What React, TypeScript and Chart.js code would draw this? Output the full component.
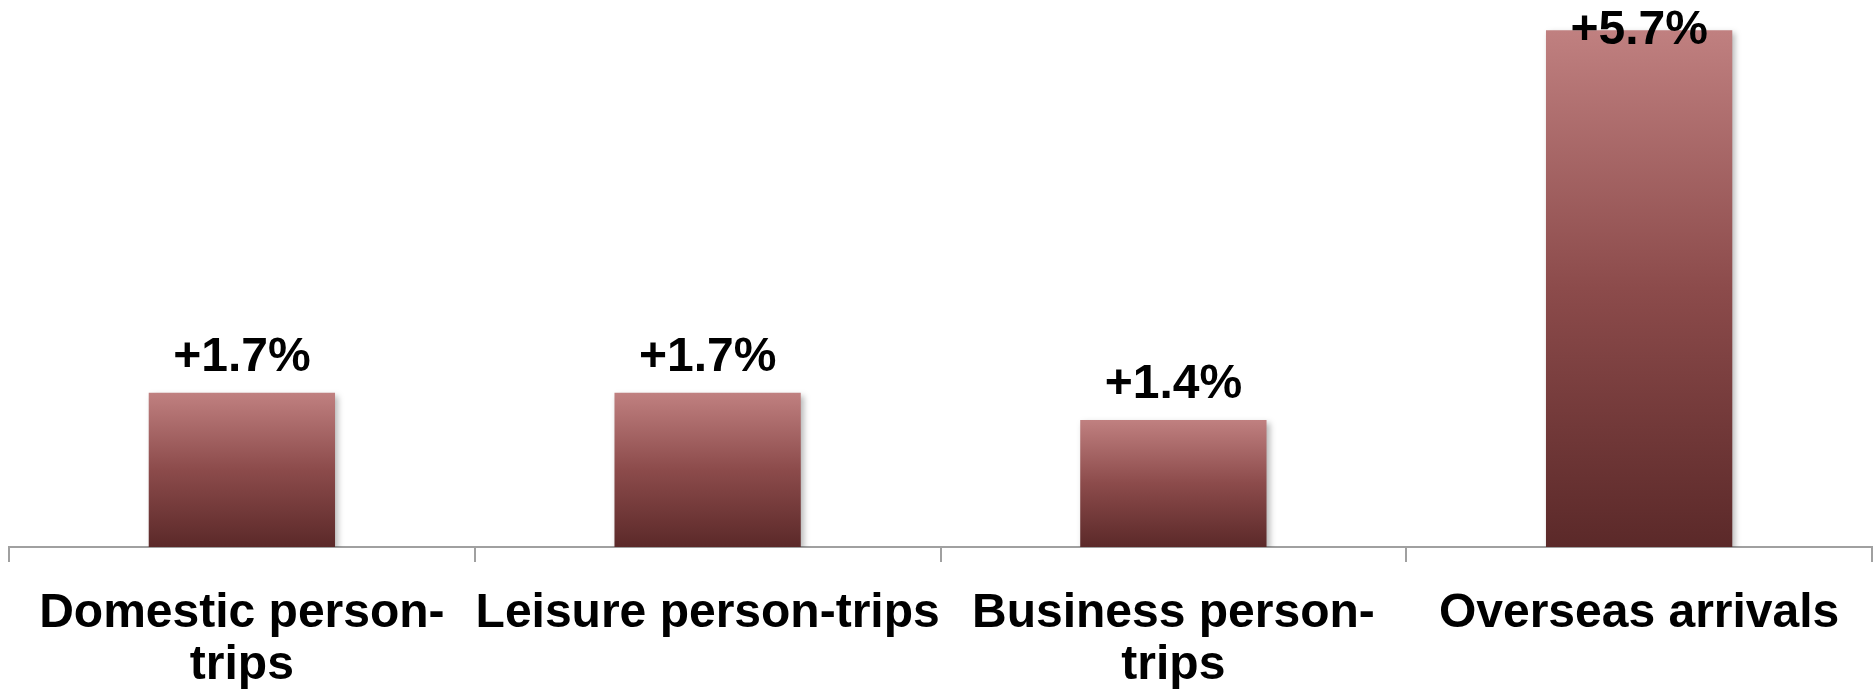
import React, { useEffect, useRef } from "react";
import { Chart, registerables } from "chart.js";

Chart.register(...registerables);

const categories: string[][] = [
  ["Domestic person-", "trips"],
  ["Leisure person-trips"],
  ["Business person-", "trips"],
  ["Overseas arrivals"],
];
const growthValues: number[] = [1.7, 1.7, 1.4, 5.7];
const yMin = 0;
const yMax = 6;

const FONT = "'Liberation Sans', Arial, Helvetica, sans-serif";

const barShadowPlugin = {
  id: "barShadow",
  beforeDatasetsDraw(chart: any) {
    const ctx = chart.ctx;
    ctx.save();
    ctx.shadowColor = "rgba(0,0,0,0.28)";
    ctx.shadowBlur = 6;
    ctx.shadowOffsetX = 3;
    ctx.shadowOffsetY = 3;
  },
  afterDatasetsDraw(chart: any) {
    chart.ctx.restore();
  },
};

const valueLabelPlugin = {
  id: "valueLabels",
  afterDatasetsDraw(chart: any) {
    const ctx = chart.ctx;
    const meta = chart.getDatasetMeta(0);
    const area = chart.chartArea;
    ctx.save();
    ctx.shadowColor = "transparent";
    ctx.font = `bold 48px ${FONT}`;
    ctx.fillStyle = "#000000";
    ctx.textAlign = "center";
    ctx.textBaseline = "alphabetic";
    meta.data.forEach((el: any, i: number) => {
      const v = growthValues[i];
      const text = (v >= 0 ? "+" : "") + v.toFixed(1) + "%";
      const y = Math.max(el.y - 22, area.top + 41);
      ctx.fillText(text, el.x, y);
    });
    ctx.restore();
  },
};

export default function App() {
  const canvasRef = useRef<HTMLCanvasElement | null>(null);

  useEffect(() => {
    if (!canvasRef.current) return;
    const chart = new Chart(canvasRef.current, {
      type: "bar",
      data: {
        labels: categories,
        datasets: [
          {
            data: growthValues,
            backgroundColor: (context: any) => {
              const c = context.chart;
              const yScale = c.scales?.y;
              if (!yScale || !c.chartArea) return "#8c4a4a";
              const v = context.raw as number;
              const top = yScale.getPixelForValue(v);
              const bottom = yScale.getPixelForValue(0);
              const g = c.ctx.createLinearGradient(0, top, 0, bottom);
              g.addColorStop(0, "#c08080");
              g.addColorStop(0.5, "#8c4b4b");
              g.addColorStop(1, "#5b2929");
              return g;
            },
            borderWidth: 0,
            barPercentage: 0.4,
            categoryPercentage: 1.0,
          },
        ],
      },
      options: {
        responsive: true,
        maintainAspectRatio: false,
        animation: false,
        layout: { padding: { left: 9, right: 4, top: 3, bottom: 0 } },
        plugins: {
          legend: { display: false },
          tooltip: { enabled: false },
          title: { display: false },
        },
        scales: {
          x: {
            grid: {
              display: true,
              drawOnChartArea: false,
              drawTicks: true,
              tickLength: 15,
              offset: true,
              color: "#a0a0a0",
              lineWidth: 2,
            },
            border: { display: true, color: "#a0a0a0", width: 2 },
            ticks: {
              color: "#000000",
              padding: 25,
              maxRotation: 0,
              minRotation: 0,
              autoSkip: false,
              font: { family: FONT, size: 48, weight: "bold", lineHeight: 1.1 },
            },
            afterFit: (scale: any) => {
              scale.height = 143;
            },
          },
          y: {
            display: false,
            min: yMin,
            max: yMax,
          },
        },
      },
      plugins: [barShadowPlugin, valueLabelPlugin],
    });
    return () => chart.destroy();
  }, []);

  return (
    <div
      style={{
        position: "absolute",
        left: 0,
        top: 0,
        width: "1876px",
        height: "690px",
        background: "#ffffff",
      }}
    >
      <canvas ref={canvasRef} />
    </div>
  );
}
